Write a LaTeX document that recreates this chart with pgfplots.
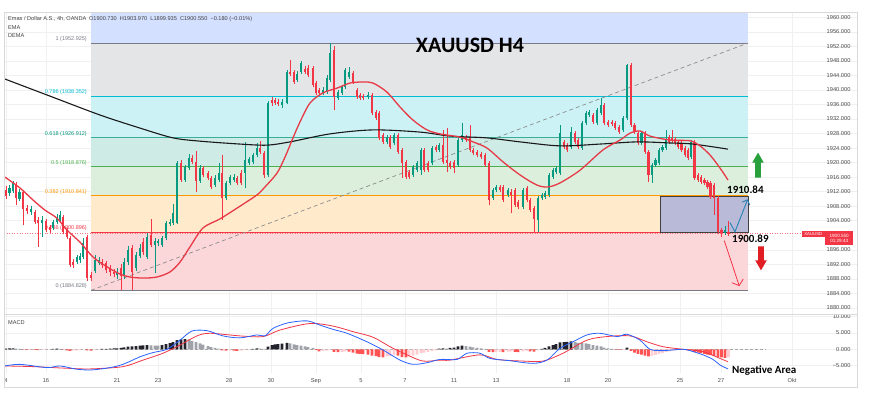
\documentclass[border=0pt]{standalone}
\usepackage{fontspec}
\setmainfont{Liberation Sans}
\newfontfamily\carlito{Carlito}
\usepackage{pgfplots}
\pgfplotsset{compat=1.18}
\usepackage{pgfplotstable}
\usetikzlibrary{shapes.arrows,arrows.meta}

\definecolor{tvgreen}{RGB}{8,153,129}
\definecolor{tvred}{RGB}{242,54,69}
\definecolor{fibgray}{RGB}{120,123,134}
\definecolor{fibcyan}{RGB}{0,188,212}
\definecolor{fibteal}{RGB}{8,153,129}
\definecolor{fibgreen}{RGB}{76,175,80}
\definecolor{fiborange}{RGB}{255,152,0}
\definecolor{fibred}{RGB}{242,54,69}
\definecolor{fibblue}{RGB}{41,98,255}
\definecolor{boxfill}{RGB}{185,186,215}
\definecolor{macdblue}{RGB}{41,98,255}
\definecolor{macdred}{RGB}{242,54,69}
\definecolor{histdark}{RGB}{35,35,45}
\definecolor{histgray}{RGB}{160,162,170}
\definecolor{histred}{RGB}{255,82,82}
\definecolor{histpink}{RGB}{255,205,210}
\definecolor{arrgreen}{RGB}{40,160,60}
\definecolor{arrred}{RGB}{225,30,35}
\definecolor{zigblue}{RGB}{40,130,180}
\definecolor{emared}{RGB}{232,58,70}

\pgfplotsset{
  candlewick/.style={only marks, mark=*, mark size=0pt, mark options={draw=none, fill=none},
    error bars/.cd, y dir=plus, y explicit, error mark=none,
    error bar style={draw=#1, line width=0.7pt}},
  candlebody/.style={only marks, mark=*, mark size=0pt, mark options={draw=none, fill=none},
    error bars/.cd, y dir=both, y explicit, error mark=none,
    error bar style={draw=#1, line width=2.6pt}},
}

\pgfplotstableread{
x o h l c
9.5 1911.6 1913.8 1910.8 1913.0
13 1912.2 1914.9 1911.6 1914.4
19.5 1910.0 1912.7 1909.4 1911.9
31 1906.4 1908.0 1905.6 1907.2
42 1903.4 1905.3 1899.5 1904.2
53 1902.0 1904.2 1901.4 1903.6
57 1903.6 1905.8 1903.1 1905.0
60 1904.2 1906.7 1903.6 1905.6
77 1892.6 1894.6 1892.1 1894.0
80 1893.2 1895.1 1892.4 1894.3
83 1894.0 1899.2 1893.5 1897.9
95 1890.2 1894.6 1889.6 1893.2
99 1892.4 1894.0 1891.8 1893.2
117 1889.0 1891.0 1888.0 1889.9
124 1888.8 1893.7 1888.0 1892.6
128 1892.6 1897.0 1891.8 1895.9
136 1891.0 1895.4 1890.2 1894.6
140 1894.3 1897.6 1893.7 1896.5
147 1894.0 1900.6 1893.5 1899.5
155 1897.3 1899.2 1889.6 1898.4
158 1897.9 1899.0 1897.0 1898.4
162 1897.3 1899.8 1896.8 1899.2
166 1899.2 1903.9 1898.7 1903.4
170 1903.1 1904.5 1902.5 1903.6
173 1903.4 1908.6 1902.8 1906.1
177 1903.4 1920.4 1903.1 1919.9
185 1915.2 1919.3 1914.7 1918.8
189 1918.5 1922.4 1918.0 1921.3
200 1915.0 1919.3 1914.4 1918.5
215 1913.8 1916.6 1913.3 1915.8
219 1915.2 1919.9 1914.7 1917.1
226 1910.2 1914.9 1909.7 1914.4
230 1914.4 1916.6 1913.8 1916.0
234 1915.2 1916.9 1914.7 1916.0
245 1917.1 1925.7 1913.0 1920.7
249 1919.9 1921.5 1919.3 1921.0
253 1920.2 1922.6 1919.6 1922.1
257 1922.1 1925.4 1921.5 1924.0
268 1916.6 1936.9 1916.0 1936.4
282 1935.9 1937.5 1935.0 1936.7
287 1936.4 1945.5 1936.1 1944.9
297 1942.7 1945.2 1942.2 1944.4
301 1944.9 1948.0 1944.4 1947.4
323 1939.2 1940.8 1938.6 1940.0
327 1939.4 1944.1 1938.9 1943.3
330 1942.7 1952.9 1942.2 1950.2
338 1937.8 1940.0 1937.2 1939.4
342 1939.2 1941.4 1938.6 1940.8
345 1940.8 1946.0 1940.3 1945.5
349 1943.6 1946.3 1943.0 1944.9
368 1938.1 1939.4 1937.5 1938.6
387 1925.7 1927.6 1925.1 1927.0
394 1925.4 1928.1 1924.8 1927.6
413 1916.6 1919.3 1916.0 1918.8
417 1918.0 1920.4 1917.4 1919.9
421 1918.0 1924.0 1916.6 1923.5
432 1919.9 1924.6 1919.3 1924.0
439 1923.5 1925.4 1922.9 1924.8
458 1919.3 1926.8 1918.8 1926.2
462 1926.2 1930.9 1925.7 1927.6
493 1910.2 1913.0 1909.7 1912.5
496 1912.5 1913.8 1911.9 1913.3
508 1911.1 1913.0 1910.5 1912.5
523 1907.8 1913.0 1907.2 1912.5
538 1904.2 1910.8 1900.9 1910.2
542 1910.2 1911.6 1909.7 1911.1
545 1910.5 1912.2 1910.0 1911.6
549 1911.1 1917.1 1910.5 1916.6
553 1916.0 1918.5 1915.5 1918.0
556 1917.4 1919.0 1916.9 1918.5
560 1917.1 1930.3 1916.6 1928.1
571 1924.3 1929.8 1923.7 1928.4
582 1924.0 1931.4 1923.5 1930.9
586 1930.9 1934.2 1930.3 1933.7
589 1933.1 1934.5 1932.5 1933.9
597 1930.9 1935.0 1930.3 1934.5
601 1933.7 1937.8 1933.1 1935.9
623 1929.0 1932.8 1928.4 1932.3
627 1932.3 1947.1 1931.7 1946.9
641.5 1925.4 1928.7 1924.8 1928.1
652 1916.6 1919.9 1914.4 1919.3
655.5 1919.3 1921.3 1918.8 1920.7
659 1919.9 1924.0 1919.3 1923.5
662.5 1923.5 1924.8 1922.9 1924.3
666 1924.0 1929.0 1923.5 1926.2
691 1921.5 1926.2 1921.0 1925.7
725 1900.6 1902.5 1900.1 1901.4
}\greenC

\pgfplotstableread{
x o h l c
6 1912.5 1913.6 1910.0 1910.8
16 1914.1 1914.6 1908.3 1910.2
23 1911.9 1912.5 1902.8 1907.2
27 1907.5 1908.3 1905.8 1906.7
35 1906.4 1906.9 1903.1 1903.6
38 1904.2 1905.0 1896.8 1903.4
46 1903.9 1904.5 1900.9 1901.4
50 1902.3 1902.8 1900.6 1901.4
63 1905.0 1905.6 1900.3 1900.9
67 1901.4 1902.0 1899.0 1899.5
70 1899.2 1899.8 1891.2 1891.8
73 1892.6 1893.4 1891.0 1891.8
87 1899.5 1900.1 1887.4 1888.2
91 1889.0 1889.9 1887.4 1888.2
102 1892.6 1893.4 1891.0 1891.8
106 1892.4 1892.9 1889.6 1890.4
110 1891.0 1891.8 1888.8 1889.9
114 1889.9 1890.7 1888.5 1889.4
121 1891.0 1892.1 1884.9 1888.8
132 1896.5 1897.3 1884.9 1889.9
143 1898.1 1899.2 1894.6 1895.4
151 1900.1 1904.5 1896.8 1897.3
181 1919.9 1920.7 1914.7 1915.2
192 1921.3 1922.1 1919.6 1920.2
196 1920.2 1923.2 1911.9 1915.0
203 1918.5 1919.0 1916.0 1916.6
208 1917.1 1917.7 1915.2 1915.8
211 1915.8 1916.3 1912.7 1913.3
222 1917.1 1922.1 1904.2 1910.2
237 1915.8 1916.3 1913.8 1914.4
241 1917.1 1918.0 1913.8 1914.4
260 1924.0 1925.9 1922.4 1922.9
264 1922.6 1923.2 1915.8 1916.6
272 1937.2 1938.1 1935.6 1936.4
275 1937.2 1937.8 1935.9 1936.4
278 1936.7 1937.5 1935.6 1936.2
290 1944.9 1948.2 1943.8 1944.4
294 1944.9 1945.5 1941.6 1942.2
305 1945.8 1946.6 1944.4 1944.9
308 1946.0 1946.9 1943.6 1944.1
313 1946.0 1946.6 1940.8 1941.4
316 1941.9 1942.5 1938.6 1939.2
319 1940.0 1940.5 1938.6 1939.2
334 1951.0 1952.1 1934.5 1938.1
353 1944.7 1945.2 1941.6 1942.2
357 1940.0 1940.5 1937.5 1938.1
360 1938.6 1939.2 1937.2 1937.8
363 1938.3 1938.9 1937.2 1937.8
372 1938.6 1939.2 1933.1 1933.7
376 1933.9 1934.5 1931.7 1932.3
379 1933.7 1934.2 1926.2 1926.8
383 1927.6 1928.1 1925.1 1925.7
390 1927.0 1927.6 1923.7 1924.3
398 1927.6 1928.1 1922.4 1922.9
402 1923.5 1924.0 1915.8 1919.9
406 1920.2 1920.7 1915.5 1916.0
409 1917.4 1918.0 1915.5 1916.0
424 1923.5 1924.0 1917.4 1918.0
428 1919.9 1920.4 1917.4 1918.0
436 1924.3 1924.8 1922.9 1923.5
443 1924.8 1929.0 1919.6 1920.2
447 1920.7 1929.5 1917.4 1919.9
450 1919.9 1920.4 1918.2 1918.8
454 1920.2 1920.7 1917.1 1918.5
466 1927.0 1927.6 1925.7 1926.2
470 1927.0 1930.3 1922.9 1923.5
473 1923.5 1924.0 1922.1 1922.6
477 1922.9 1923.5 1921.5 1922.1
481 1922.4 1922.9 1921.0 1921.5
485 1922.1 1922.6 1918.8 1919.3
489 1919.9 1920.4 1908.3 1909.7
500 1913.3 1913.8 1911.9 1912.5
503 1913.3 1913.8 1909.1 1909.7
511 1911.9 1912.7 1906.1 1911.2
515 1912.5 1913.0 1907.8 1908.3
518 1909.1 1909.7 1907.2 1907.8
527 1913.0 1913.6 1909.1 1909.7
530 1909.7 1910.2 1906.4 1906.9
534 1907.5 1908.0 1900.9 1904.5
564 1925.7 1926.2 1923.7 1924.3
567 1924.8 1925.4 1922.9 1923.5
575 1928.1 1928.7 1925.1 1925.7
578 1926.2 1926.8 1923.7 1924.3
593 1933.1 1933.7 1930.6 1931.2
604 1935.9 1936.4 1930.3 1930.9
608 1931.2 1931.7 1929.8 1930.3
612 1931.2 1931.7 1930.1 1930.6
615 1930.9 1931.4 1929.0 1929.5
619 1929.8 1930.3 1927.9 1928.4
631 1946.9 1947.4 1929.8 1930.3
634.5 1930.3 1930.9 1927.9 1928.4
638 1928.1 1928.7 1924.8 1925.4
645 1928.1 1928.7 1922.4 1922.9
648.5 1922.9 1923.5 1914.7 1916.6
669 1927.0 1927.6 1925.1 1925.7
672 1926.8 1929.0 1925.4 1925.9
675 1926.5 1927.0 1924.8 1925.4
678 1925.7 1926.2 1923.7 1924.3
681.5 1925.4 1925.9 1922.9 1923.5
685 1924.0 1924.6 1921.5 1922.1
688 1923.5 1924.0 1920.7 1921.3
694.5 1925.7 1926.2 1915.2 1915.8
698 1916.6 1917.1 1914.7 1915.2
701 1916.0 1916.6 1914.1 1914.7
704.5 1915.2 1915.8 1913.8 1914.4
707.5 1914.7 1915.2 1912.7 1913.3
710.5 1914.4 1914.9 1910.0 1910.5
714 1913.8 1914.4 1905.6 1910.2
718 1910.2 1910.8 1900.3 1900.9
721.5 1901.4 1902.0 1899.5 1900.6
728.5 1900.7 1904.0 1899.9 1900.55
}\redC

\begin{document}
\begin{tikzpicture}[x=1pt,y=1pt]
\fill[white] (0,0) rectangle (870,405);
\begin{axis}[
  at={(4.5pt,91pt)}, anchor=south west, scale only axis,
  width=852.5pt, height=301.7pt,
  xmin=4.5, xmax=857, ymin=1878.31, ymax=1961.38,
  axis line style={draw=none},
  xtick={6,46,117,158,229,271,316,361,405,454,496,567,608,680,721,792},
  xticklabels={},
  ytick={1880,1884,1888,1892,1896,1904,1908,1912,1916,1920,1924,1928,1932,1936,1940,1944,1948,1952,1956,1960},
  yticklabels={1880.000,1884.000,1888.000,1892.000,1896.000,1904.000,1908.000,1912.000,1916.000,1920.000,1924.000,1928.000,1932.000,1936.000,1940.000,1944.000,1948.000,1952.000,1956.000,1960.000},
  yticklabel pos=right,
  yticklabel style={anchor=east, xshift=-3pt, font=\fontsize{5.7}{6}\selectfont, text=black!70},
  major tick length=0pt,
  grid=major, grid style={black!6, line width=0.4pt},
  clip mode=individual,
]
% Fibonacci zones
\addplot[draw=none, fill=fibblue!20] coordinates {(91,1952.925) (748,1952.925) (748,1961.38) (91,1961.38)} -- cycle;
\addplot[draw=none, fill=fibgray!20] coordinates {(91,1938.352) (748,1938.352) (748,1952.925) (91,1952.925)} -- cycle;
\addplot[draw=none, fill=fibcyan!20] coordinates {(91,1926.912) (748,1926.912) (748,1938.352) (91,1938.352)} -- cycle;
\addplot[draw=none, fill=fibteal!20] coordinates {(91,1918.876) (748,1918.876) (748,1926.912) (91,1926.912)} -- cycle;
\addplot[draw=none, fill=fibgreen!20] coordinates {(91,1910.841) (748,1910.841) (748,1918.876) (91,1918.876)} -- cycle;
\addplot[draw=none, fill=fiborange!20] coordinates {(91,1900.896) (748,1900.896) (748,1910.841) (91,1910.841)} -- cycle;
\addplot[draw=none, fill=fibred!20] coordinates {(91,1884.828) (748,1884.828) (748,1900.896) (91,1900.896)} -- cycle;
% Fibonacci levels
\addplot[fibgray, line width=0.8pt] coordinates {(91,1952.925) (748,1952.925)};
\addplot[fibcyan, line width=0.8pt] coordinates {(91,1938.352) (748,1938.352)};
\addplot[fibteal!80, line width=0.8pt] coordinates {(91,1926.912) (748,1926.912)};
\addplot[fibgreen, line width=0.8pt] coordinates {(91,1918.876) (748,1918.876)};
\addplot[fiborange, line width=0.8pt] coordinates {(91,1910.841) (748,1910.841)};
\addplot[fibred, line width=0.8pt] coordinates {(91,1900.896) (748,1900.896)};
\addplot[fibgray, line width=0.8pt] coordinates {(91,1884.828) (748,1884.828)};
% labels of the levels
\begin{scope}[every node/.style={anchor=south east, inner sep=1pt, font=\fontsize{5.5}{6}\selectfont}]
\node[text=fibgray] at (axis cs:88,1952.925) {1 (1952.925)};
\node[text=fibcyan] at (axis cs:88,1938.352) {0.786 (1938.352)};
\node[text=fibteal] at (axis cs:88,1926.912) {0.618 (1926.912)};
\node[text=fibgreen] at (axis cs:88,1918.876) {0.5 (1918.876)};
\node[text=fiborange] at (axis cs:88,1910.841) {0.382 (1910.841)};
\node[text=fibred] at (axis cs:88,1900.896) {0.236 (1900.896)};
\node[text=fibgray] at (axis cs:88,1884.828) {0 (1884.828)};
\end{scope}
% trend line
\addplot[black!45, line width=0.7pt, dash pattern=on 4pt off 3pt] coordinates {(91,1884.828) (748,1952.925)};
% current price line
\addplot[tvred!70, line width=0.5pt, dash pattern=on 1pt off 1.5pt] coordinates {(4.5,1900.55) (802,1900.55)};
% range box
\addplot[draw=black!75, line width=0.6pt, fill=boxfill] coordinates {(660,1900.896) (748,1900.896) (748,1910.841) (660,1910.841)} -- cycle;
% candles: wicks
\addplot[candlewick=tvgreen] table[x=x, y=l, y error plus expr=\thisrow{h}-\thisrow{l}] {\greenC};
\addplot[candlewick=tvred] table[x=x, y=l, y error plus expr=\thisrow{h}-\thisrow{l}] {\redC};
% candles: bodies
\addplot[candlebody=tvgreen] table[x=x, y expr=(\thisrow{o}+\thisrow{c})/2, y error expr={max(abs(\thisrow{c}-\thisrow{o})/2,0.15)}] {\greenC};
\addplot[candlebody=tvred] table[x=x, y expr=(\thisrow{o}+\thisrow{c})/2, y error expr={max(abs(\thisrow{c}-\thisrow{o})/2,0.15)}] {\redC};
% EMA (black) and DEMA (red)
\addplot[black!90, line width=1.1pt, smooth] coordinates {
(5,1943.0)(50,1938.3)(100,1933.1)(140,1929.5)(173,1926.8)(200,1925.9)(240,1925.1)(267,1924.8)(290,1925.7)(330,1927.9)(373,1929.0)(420,1928.4)(450,1927.3)(487,1926.8)(520,1925.7)(560,1924.6)(600,1925.1)(637,1925.7)(670,1925.4)(693,1925.1)(728,1923.7)};
\addplot[emared, line width=1.3pt, smooth] coordinates {
(5,1916.0)(20,1913.0)(33,1909.7)(45,1906.9)(57,1904.7)(67,1901.4)(80,1898.1)(93,1894.0)(107,1891.3)(120,1889.3)(130,1888.5)(143,1888.2)(157,1888.5)(170,1889.9)(180,1892.6)(190,1896.8)(203,1902.0)(220,1904.5)(240,1908.0)(257,1911.1)(265,1913.3)(277,1917.1)(285,1921.5)(293,1926.8)(300,1931.2)(310,1936.4)(323,1939.2)(337,1940.5)(350,1941.9)(363,1942.2)(373,1941.9)(387,1939.4)(400,1935.3)(413,1931.7)(427,1929.0)(440,1927.9)(460,1927.0)(473,1925.7)(487,1924.0)(503,1920.2)(520,1916.6)(537,1913.8)(548,1913.3)(560,1914.4)(580,1917.9)(603,1923.5)(620,1926.2)(630,1928.1)(640,1928.7)(650,1927.3)(670,1926.2)(690,1926.0)(700,1924.6)(710,1922.1)(720,1918.5)(728,1915.2)};
% legend text
\node[anchor=west, inner sep=0pt, font=\fontsize{5.6}{6}\selectfont, text=black!75] at (axis cs:8,1959.4) {Emas / Dollar A.S., 4h, OANDA\enspace O1900.730\ \ H1903.970\ \ L1899.935\ \ C1900.550\ \ −0.180 (−0.01\%)};
\node[anchor=west, inner sep=0pt, font=\fontsize{5.6}{6}\selectfont, text=black!75] at (axis cs:8,1957.1) {EMA};
\node[anchor=west, inner sep=0pt, font=\fontsize{5.6}{6}\selectfont, text=black!75] at (axis cs:8,1955.1) {DEMA};
% title and annotations
\node[anchor=base, inner sep=0pt, font=\carlito\bfseries\fontsize{22}{24}\selectfont] at (axis cs:470,1950.2) {XAUUSD H4};
\node[anchor=base west, inner sep=0pt, font=\carlito\bfseries\fontsize{11}{12}\selectfont] at (axis cs:727,1911.6) {1910.84};
\node[anchor=base west, inner sep=0pt, font=\carlito\bfseries\fontsize{11}{12}\selectfont] at (axis cs:732,1897.9) {1900.89};
\node[single arrow, fill=arrgreen, draw=none, minimum height=25pt, minimum width=11pt, inner xsep=0pt, inner ysep=2.6pt, single arrow head extend=3pt, single arrow tip angle=60, rotate=90, anchor=tail] at (axis cs:758,1915.8) {};
\node[single arrow, fill=arrred, draw=none, minimum height=24pt, minimum width=11pt, inner xsep=0pt, inner ysep=2.6pt, single arrow head extend=3pt, single arrow tip angle=60, rotate=-90, anchor=tail] at (axis cs:761,1897.0) {};
\draw[zigblue, line width=0.9pt, -{Straight Barb[length=4pt,width=8pt]}] (axis cs:730,1903.45) -- (axis cs:735,1900.97) -- (axis cs:747.7,1909.9);
\draw[tvred, line width=0.8pt, -{Straight Barb[length=5pt,width=12pt]}] (axis cs:724.3,1898.5) -- (axis cs:739.3,1886.0);
% price labels on the scale
\node[fill=tvred, text=white, font=\fontsize{4.3}{4.5}\selectfont, inner sep=0.6pt, anchor=east, minimum height=6pt, minimum width=23pt] at (axis cs:825,1900.33) {XAUUSD};
\node[fill=tvred, text=white, font=\fontsize{4.6}{5.4}\selectfont, inner sep=1pt, anchor=north west, align=center, minimum width=28pt, minimum height=14pt] at (axis cs:825,1901.16) {1900.550\\01:29:43};
\end{axis}

\begin{axis}[
  at={(4.5pt,32pt)}, anchor=south west, scale only axis,
  width=852.5pt, height=59pt,
  xmin=4.5, xmax=857, ymin=-7.25, ymax=10.8,
  axis line style={draw=none},
  xtick={6,46,117,158,229,271,316,361,405,454,496,567,608,680,721,792},
  xticklabels={4,16,21,23,28,30,Sep,5,7,11,13,18,20,25,27,Okt},
  xticklabel style={font=\fontsize{5.7}{6}\selectfont, text=black!70, yshift=-2pt},
  ytick={-5,0,5,10},
  yticklabels={−5.000,0.000,5.000,10.000},
  yticklabel pos=right,
  yticklabel style={anchor=east, xshift=-3pt, font=\fontsize{5.7}{6}\selectfont, text=black!70},
  major tick length=0pt,
  grid=major, grid style={black!6, line width=0.4pt},
  clip mode=individual,
]
\addplot[black!35, line width=0.5pt, dash pattern=on 3pt off 2pt] coordinates {(4.5,0) (765,0)};
\addplot[ybar, bar width=2.9pt, bar shift=0pt, fill=histdark, draw=none] coordinates {(6,0.2)(9.5,0.25)(13,0.3)(53,0.1)(57,0.2)(102,0.1)(106,0.15)(110,0.2)(114,0.25)(117,0.3)(121,0.4)(124,0.6)(128,0.8)(132,0.9)(136,1.0)(140,1.1)(143,1.2)(147,1.3)(162,1.3)(166,1.6)(170,1.9)(173,2.2)(177,2.8)(181,3.0)(185,3.1)(253,0.1)(257,0.3)(268,0.8)(272,1.3)(275,1.5)(278,1.6)(282,1.7)(287,2.0)(439,0.2)(443,0.3)(450,0.4)(454,0.5)(458,0.9)(462,1.1)(542,0.1)(545,0.4)(549,0.9)(553,1.3)(556,1.6)(560,2.1)(564,2.2)(567,2.3)(571,2.4)(627,0.5)};
\addplot[ybar, bar width=2.9pt, bar shift=0pt, fill=histgray, draw=none] coordinates {(16,0.2)(19.5,0.1)(60,0.15)(151,1.2)(155,1.15)(158,1.1)(189,3.0)(192,2.6)(196,2.2)(200,1.8)(203,1.4)(208,1.0)(211,0.7)(215,0.4)(219,0.2)(260,0.2)(264,0.1)(290,1.8)(294,1.5)(297,1.3)(301,1.1)(305,0.9)(308,0.7)(313,0.4)(447,0.2)(466,1.0)(470,0.8)(473,0.6)(477,0.4)(481,0.3)(485,0.1)(575,2.2)(578,2.0)(582,1.9)(586,1.8)(589,1.6)(593,1.3)(597,1.1)(601,0.9)(604,0.5)(608,0.3)(612,0.1)};
\addplot[ybar, bar width=2.9pt, bar shift=0pt, fill=histred, draw=none] coordinates {(23,-0.1)(27,-0.15)(35,-0.2)(38,-0.25)(63,-0.1)(67,-0.3)(70,-0.5)(87,-0.35)(91,-0.4)(222,-0.3)(226,-0.4)(234,-0.4)(237,-0.5)(316,-0.2)(319,-0.6)(334,-0.8)(338,-0.9)(349,-0.7)(353,-1.0)(357,-1.3)(360,-1.4)(363,-1.5)(368,-1.6)(372,-1.9)(376,-2.1)(379,-2.4)(383,-2.5)(398,-1.9)(402,-2.4)(406,-2.5)(489,-0.8)(493,-0.9)(503,-0.9)(515,-0.8)(518,-0.9)(530,-0.6)(534,-0.7)(615,-0.1)(619,-0.2)(631,-0.5)(634.5,-1.0)(638,-1.4)(641.5,-1.6)(645,-1.9)(648.5,-2.2)(685,-0.2)(688,-0.3)(691,-0.35)(694.5,-0.8)(698,-1.0)(701,-1.2)(704.5,-1.4)(707.5,-1.6)(710.5,-1.8)(714,-2.0)(718,-2.3)(721.5,-2.5)(725,-2.6)};
\addplot[ybar, bar width=2.9pt, bar shift=0pt, fill=histpink, draw=none] coordinates {(31,-0.1)(42,-0.2)(46,-0.1)(50,-0.05)(73,-0.4)(77,-0.3)(80,-0.2)(83,-0.05)(95,-0.2)(99,-0.1)(230,-0.3)(241,-0.4)(245,-0.2)(249,-0.1)(323,-0.5)(327,-0.4)(330,-0.2)(342,-0.8)(345,-0.6)(387,-2.2)(390,-2.0)(394,-1.8)(409,-2.2)(413,-1.9)(417,-1.6)(421,-1.2)(424,-1.0)(428,-0.8)(432,-0.5)(436,-0.3)(496,-0.8)(500,-0.75)(508,-0.7)(511,-0.6)(523,-0.6)(527,-0.5)(538,-0.3)(623,-0.1)(652,-2.0)(655.5,-1.7)(659,-1.4)(662.5,-1.1)(666,-0.8)(669,-0.6)(672,-0.4)(675,-0.3)(678,-0.2)(681.5,-0.1)(728.5,-2.5)};
\addplot[macdred, line width=0.8pt, smooth] coordinates {(5,-5.1)(33,-5.3)(67,-5.8)(90,-6.0)(123,-5.3)(143,-3.3)(163,-1.2)(180,1.3)(197,4.1)(210,4.9)(240,4.1)(263,3.9)(280,5.9)(310,7.9)(333,7.1)(353,5.4)(373,3.7)(390,0.8)(407,-1.7)(423,-3.6)(440,-3.3)(450,-3.3)(480,-1.7)(497,-3.1)(523,-3.6)(543,-3.6)(563,-1.2)(587,2.8)(607,3.9)(630,4.1)(647,2.3)(663,0.8)(683,0.0)(703,-0.7)(720,-2.8)(728,-3.8)};
\addplot[macdblue, line width=0.8pt, smooth] coordinates {(5,-5.1)(20,-4.6)(47,-5.6)(60,-5.1)(77,-6.1)(92,-6.3)(110,-5.6)(123,-4.6)(140,-2.3)(153,-1.0)(167,0.0)(180,2.8)(192,5.6)(207,5.7)(223,4.1)(240,3.5)(257,4.4)(265,4.1)(273,6.4)(288,8.1)(307,8.7)(320,7.4)(333,6.1)(347,4.9)(367,2.3)(383,-0.2)(400,-3.3)(413,-4.6)(427,-4.1)(440,-3.1)(457,-3.1)(467,-1.2)(480,-1.2)(490,-2.8)(510,-3.5)(533,-4.3)(547,-3.3)(560,0.3)(573,2.3)(587,4.4)(600,4.9)(617,3.9)(627,4.6)(640,2.8)(650,0.0)(663,-0.4)(683,0.0)(693,-0.7)(703,-1.7)(713,-3.1)(720,-4.8)(728,-6.0)};
\node[anchor=west, inner sep=0pt, font=\fontsize{5.6}{6}\selectfont, text=black!75] at (axis cs:8,8.3) {MACD};
\node[anchor=base west, inner sep=0pt, font=\carlito\bfseries\fontsize{11}{12}\selectfont] at (axis cs:732,-7.4) {Negative Area};
\end{axis}
\draw[black!15, line width=0.5pt] (4.5,18) rectangle (857,392.7);
\draw[black!15, line width=0.5pt] (4.5,91) -- (857,91);
\end{tikzpicture}
\end{document}
